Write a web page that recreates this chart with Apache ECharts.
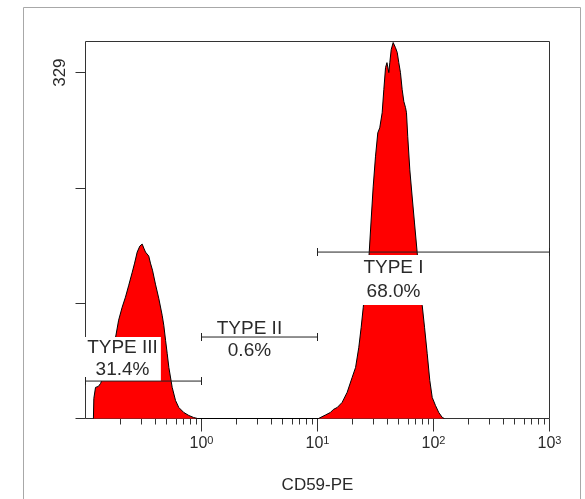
<!DOCTYPE html>
<html>
<head>
<meta charset="utf-8">
<script src="https://cdn.jsdelivr.net/npm/echarts@6/dist/echarts.min.js"></script>
<style>html,body{margin:0;padding:0;background:#fff}#c{width:585px;height:499px}</style>
</head>
<body>
<div id="c"></div>
<script>
// CD59-PE intensity (linear units) and event counts of the histogram outline
const cd59pe = [0.117,0.118,0.122,0.129,0.135,0.149,0.164,0.181,0.193,0.207,
  0.221,0.236,0.253,0.265,0.279,0.294,0.308,0.318,0.329,0.351,
  0.363,0.378,0.401,0.428,0.458,0.473,0.490,0.506,0.523,0.559,
  0.597,0.637,0.704,0.777,0.853,0.924,
  10.2,10.6,11.7,12.9,13.7,14.8,16.3,18.0,19.9,21.3,
  22.7,23.8,24.8,25.9,27.5,29.0,30.2,31.6,33.1,34.4,
  36.1,37.3,38.6,39.7,41.2,42.0,43.2,44.9,47.0,48.7,
  50.2,51.9,53.7,55.5,57.4,58.5,60.0,62.5,65.5,68.6,
  72.4,74.2,77.3,79.9,83.7,88.2,92.9,97.5,104,111,
  119,124];
const events = [0,19.1,29.6,30.5,33.4,45.8,60.1,76.3,93.5,105.8,
  115.4,126.8,139.2,147.8,158.3,164.0,165.9,162.1,158.3,154.5,
  147.8,141.1,127.8,114.4,98.2,88.7,74.4,62.0,48.6,29.6,
  17.2,10.5,5.7,2.9,1.0,0,
  0,1.0,3.3,5.7,8.6,10.5,15.3,24.8,39.1,48.6,
  67.7,86.8,105.8,126.8,145.9,188.8,220.3,248.9,271.8,276.5,
  290.8,312.8,333.8,338.5,329.0,338.5,350.9,357.6,352.8,348.1,
  338.5,329.0,312.8,301.5,295.7,290.8,268.0,236.5,210.7,186.0,
  157.4,141.1,122.0,107.7,86.8,62.0,36.2,20.0,12.4,5.7,
  1.0,0];

// Gates
const gateNames = ['TYPE I', 'TYPE II', 'TYPE III'];
const gatePercents = ['68.0%', '0.6%', '31.4%'];
const gateFrom = [10, 1, 0.1];
const gateTo = [1000, 10, 1];
const gateLevel = [158.3, 77.5, 35.6];
const gateLabelAt = [45.2, 2.59, 0.2085];

// Axes
const xDecades = [0, 1, 2, 3];          // 10^0 .. 10^3
const xMinorFactors = [2, 3, 4, 5, 6, 7, 8, 9];
const yTicks = [0, 109.67, 219.33, 329];
const yLabels = [329];
const yMax = 358.6;

const FONT = '"Liberation Sans", Arial, sans-serif';
const TXT = '#2a2a2a';
const lg = v => Math.log10(v);

const minorTicks = [];
[-1, 0, 1, 2].forEach(d => xMinorFactors.forEach(k => minorTicks.push(lg(k * Math.pow(10, d)))));

const histData = cd59pe.map((v, i) => [lg(v), events[i]]);

const gateSeries = gateNames.map((n, i) => ({
  type: 'line', z: 5, silent: true,
  data: [[lg(gateFrom[i]), gateLevel[i]], [lg(gateTo[i]), gateLevel[i]]],
  lineStyle: { color: '#222', width: 1 },
  itemStyle: { color: '#222', opacity: 1 },
  symbol: 'rect', symbolSize: [1, 8], showSymbol: true,
  animation: false
}));

const labelStyleBase = { color: TXT, fontFamily: FONT, fontSize: 19, opacity: 1 };
const annot = [
  { value: [lg(gateLabelAt[0]), gateLevel[0]],
    label: Object.assign({}, labelStyleBase, { show: true, position: 'bottom', distance: 3,
      formatter: gateNames[0] + '\n' + gatePercents[0], lineHeight: 24, backgroundColor: '#fff', padding: [1, 2, 1, 2] }) },
  { value: [lg(gateLabelAt[1]), gateLevel[1]],
    label: Object.assign({}, labelStyleBase, { show: true, position: 'top', distance: 0,
      formatter: gateNames[1], lineHeight: 17 }) },
  { value: [lg(gateLabelAt[1]), gateLevel[1]],
    label: Object.assign({}, labelStyleBase, { show: true, position: 'bottom', distance: 4,
      formatter: gatePercents[1], lineHeight: 19 }) },
  { value: [lg(gateLabelAt[2]), gateLevel[2]],
    label: Object.assign({}, labelStyleBase, { show: true, position: 'top', distance: 0,
      formatter: gateNames[2] + '\n' + gatePercents[2], lineHeight: 22, backgroundColor: '#fff', padding: [0, 3, 0, 3] }) }
];

const chart = echarts.init(document.getElementById('c'), null, { renderer: 'canvas' });
chart.setOption({
  animation: false,
  backgroundColor: '#fff',
  textStyle: { fontFamily: FONT },
  graphic: [{
    type: 'rect', z: -10,
    shape: { x: 23.5, y: 7.5, width: 557, height: 520 },
    style: { fill: null, stroke: '#a8a8a8', lineWidth: 1 }
  }],
  grid: { left: 85.5, top: 41.5, right: 35.5, bottom: 80.5, show: true,
          borderColor: '#333', borderWidth: 1, backgroundColor: '#fff', containLabel: false },
  xAxis: [{
    type: 'value', min: -1, max: 3, position: 'bottom',
    axisLine: { show: false, onZero: false }, splitLine: { show: false },
    axisTick: { show: true, inside: false, length: 13, customValues: xDecades, lineStyle: { color: '#333' } },
    axisLabel: {
      show: true, margin: 17, customValues: xDecades, fontSize: 16, color: TXT, fontFamily: FONT,
      formatter: v => '{b|10}{s|' + v + '}',
      rich: {
        b: { fontSize: 16, color: TXT, fontFamily: FONT },
        s: { fontSize: 11, color: TXT, fontFamily: FONT, verticalAlign: 'top', padding: [0, 0, 6, 0] }
      }
    },
    name: 'CD59-PE', nameLocation: 'middle', nameGap: 58,
    nameTextStyle: { fontSize: 17, color: TXT, fontFamily: FONT }
  }, {
    type: 'value', min: -1, max: 3, position: 'bottom',
    axisLine: { show: false, onZero: false }, splitLine: { show: false },
    axisTick: { show: true, inside: false, length: 6, customValues: minorTicks, lineStyle: { color: '#333' } },
    axisLabel: { show: false }
  }],
  yAxis: [{
    type: 'value', min: 0, max: yMax, position: 'left',
    axisLine: { show: false, onZero: false }, splitLine: { show: false },
    axisTick: { show: true, inside: false, length: 10, customValues: yTicks, lineStyle: { color: '#333' } },
    axisLabel: { show: true, customValues: yLabels, rotate: 90, margin: 17, fontSize: 17, color: TXT, fontFamily: FONT }
  }],
  series: [{
    type: 'line', z: 2, silent: true,
    data: histData,
    showSymbol: false, symbol: 'none',
    lineStyle: { color: '#000', width: 1 },
    areaStyle: { color: '#ff0000', opacity: 1 },
    animation: false
  }, {
    type: 'scatter', z: 4, silent: true,
    symbolSize: 0,
    itemStyle: { opacity: 1 },
    data: annot,
    animation: false
  }].concat(gateSeries)
});
</script>
</body>
</html>
